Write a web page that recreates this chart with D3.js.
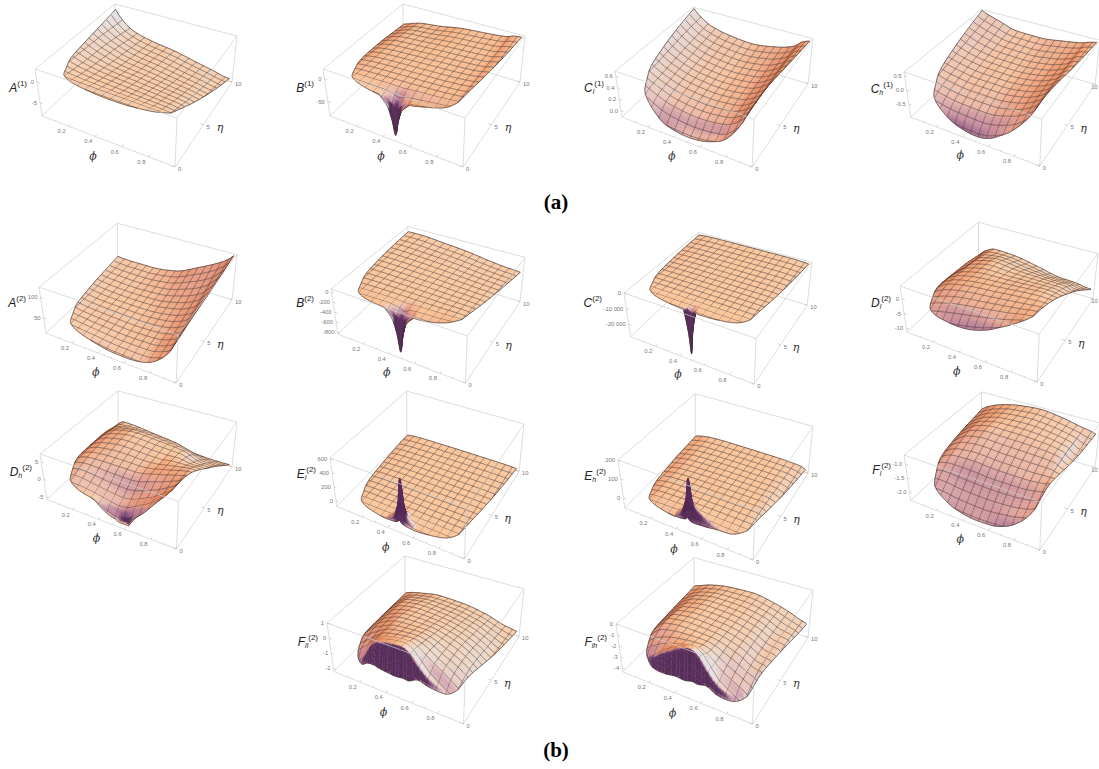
<!DOCTYPE html>
<html lang="en">
<head>
  <title>Surface plots</title>
  <script src="https://cdn.jsdelivr.net/npm/d3@7"></script>
  <style>body { margin: 0; background: #fff; }</style>
</head>
<body>
  <script>
    // knots the surface values were read at
    const phiKnots = [0, .05, .15, .3, .5, .7, .85, .92, 1];
    const etaKnots = [.4, 1, 2, 4, 7, 10];
    // the plotted domain: lowest eta present at a given phi
    const edgePhi = [0, .005, .03, .05, .08, .12, .2, .3, .4, .47, .6, .7, .8, .875, .89, .915, .945, .975, 1];
    const edgeEta = [13, 10, 5.7, 3.6, 2.5, 1.4, .9, .65, .52, .48, .5, .65, .95, 1.8, 3, 4.7, 7, 10, 13];
    const phiTicks = [.2, .4, .6, .8];
    const etaTicks = [0, 5, 10];

    // rows follow etaKnots, columns follow phiKnots
    const gridA1 = [
      [1, 1, 1, 1, .9, .9, .8, .6, .4],
      [1, 1, .9, .8, .7, .6, .5, .2, 0],
      [1.2, 1, .5, .1, -.2, -.4, -.6, -1, -1.4],
      [1.4, .8, -.2, -1, -1.5, -2, -2.4, -2.8, -3],
      [1.5, .5, -1, -2.5, -3.3, -4.2, -4.8, -5.2, -5.5],
      [2, -.1, -2.5, -3.8, -4.7, -6, -6.9, -7.4, -7.7]];
    const gridB1 = [
      [-8, -5, -3, -4, -6, 2, 8, 12, 14],
      [-8, -5, -3, -4, -5, 2, 8, 12, 14],
      [-12, -6, -3, -1, 2, 6, 10, 14, 16],
      [-15, -8, -3, 0, 3, 6, 10, 14, 17],
      [-20, -12, -4, -1, 3, 6, 9, 14, 17],
      [-27, -22, -13, -8, 1, 5, 9, 15, 17]];
    const dipKnotsPhi = [.36, .42, .45, .47, .49, .52, .58];
    const dipKnotsEta = [.4, .55, .8, 1.1, 1.6, 2.2];
    const dipB1 = [
      [0, -18, -45, -75, -45, -18, 0],
      [0, -18, -45, -72, -45, -18, 0],
      [0, -8, -20, -28, -20, -8, 0],
      [0, -3, -8, -10, -8, -3, 0],
      [0, -1, -2, -3, -2, -1, 0],
      [0, 0, 0, 0, 0, 0, 0]];
    const gridCl1 = [
      [.5, .35, .1, -.1, -.11, -.03, .2, .5, .65],
      [.5, .35, .17, 0, -.05, 0, .26, .58, .66],
      [.52, .38, .25, .12, .07, .12, .33, .6, .67],
      [.55, .42, .3, .2, .16, .2, .37, .6, .67],
      [.6, .5, .37, .27, .23, .27, .42, .6, .66],
      [.68, .57, .43, .35, .31, .37, .47, .59, .65]];
    const gridCh1 = [
      [-.1, -.3, -.6, -.93, -.96, -.6, 0, .4, .5],
      [-.1, -.25, -.5, -.65, -.7, -.45, .05, .45, .52],
      [0, -.15, -.3, -.4, -.42, -.22, .15, .5, .54],
      [.15, 0, -.1, -.18, -.18, -.05, .25, .52, .55],
      [.35, .25, .1, 0, -.02, .08, .3, .5, .55],
      [.62, .52, .38, .18, .16, .27, .38, .48, .56]];
    const gridA2 = [
      [40, 32, 25, 22, 16, 14, 25, 45, 70],
      [40, 32, 28, 24, 18, 17, 30, 50, 75],
      [40, 32, 28, 24, 20, 21, 35, 58, 85],
      [38, 32, 28, 26, 24, 28, 44, 70, 95],
      [36, 33, 30, 28, 30, 42, 62, 85, 110],
      [38, 36, 35, 35, 43, 69, 92, 105, 128]];
    const gridB2 = [
      [-120, -90, -70, -50, -50, -50, -10, 30, 40],
      [-120, -90, -65, -50, -45, -25, 10, 40, 40],
      [-90, -70, -55, -45, -40, -30, -15, -20, -40],
      [-60, -50, -45, -50, -55, -65, -70, -80, -95],
      [-45, -40, -45, -60, -85, -120, -140, -150, -170],
      [-48, -45, -50, -85, -130, -200, -240, -250, -270]];
    const dipB2 = [
      [0, -180, -450, -780, -450, -180, 0],
      [0, -180, -450, -740, -450, -180, 0],
      [0, -80, -200, -290, -200, -80, 0],
      [0, -30, -80, -100, -80, -30, 0],
      [0, -10, -20, -30, -20, -10, 0],
      [0, 0, 0, 0, 0, 0, 0]];
    const gridC2 = [
      [-300, -200, -200, -200, -200, -200, -200, -200, -300],
      [-400, -300, -200, -200, -200, -200, -200, -300, -400],
      [-600, -400, -300, -250, -250, -250, -300, -400, -600],
      [-900, -700, -500, -400, -400, -400, -500, -700, -900],
      [-1300, -1000, -700, -600, -600, -600, -700, -1000, -1300],
      [-1700, -1300, -1000, -900, -900, -900, -1000, -1300, -1700]];
    const dipC2Phi = [.425, .445, .46, .47, .48, .495, .515];
    const dipC2 = [
      [0, -9000, -18000, -27500, -18000, -9000, 0],
      [0, -8000, -17000, -26000, -17000, -8000, 0],
      [0, -700, -1800, -3000, -1800, -700, 0],
      [0, -100, -300, -500, -300, -100, 0],
      [0, 0, 0, 0, 0, 0, 0],
      [0, 0, 0, 0, 0, 0, 0]];
    const gridDl2 = [
      [-6, -6, -6, -5.5, -3.8, -.2, 3, 4, 4],
      [-6, -6, -5, -3.5, -1.5, 1, 3.3, 4, 4],
      [-6, -5, -3, -1, .5, 2, 3.4, 3.8, 3.8],
      [-6, -3.5, -1, .5, 1.5, 2.5, 3, 3, 3],
      [-8, -4, -1.5, 0, -.5, -.5, -.5, -1.2, -1.2],
      [-8.9, -5.8, -3.9, -4.2, -5.7, -7.4, -7.7, -8.2, -8.4]];
    const gridDh2 = [
      [-2, -2, -2, -2, -4.5, -2.4, 3.6, 6.5, 7],
      [-2, -2, -1.6, -2, -3.5, -.5, 4, 6.5, 7],
      [-2, -1.2, -.5, -1.2, -2, .5, 4, 6, 6.5],
      [-2, 0, 1.2, 1.5, 1.5, 3, 4.5, 5, 5],
      [-2.5, .2, 2, 3, 2.5, 2, .5, .5, .5],
      [-3, -1.9, -2.1, -2.8, -3.7, -5.3, -5.5, -5.5, -5.5]];
    const dipDh2Phi = [.34, .42, .5, .58, .64, .68, .74];
    const dipDh2 = [
      [0, -.6, -.8, -3, -1, -.3, 0],
      [0, -.6, -.8, -3, -1, -.3, 0],
      [0, -.2, -.5, -1.2, -.5, -.2, 0],
      [0, 0, -.1, -.3, -.1, 0, 0],
      [0, 0, 0, 0, 0, 0, 0],
      [0, 0, 0, 0, 0, 0, 0]];
    const gridEl2 = [
      [-70, -60, -52, -50, -50, -50, -50, -52, -60],
      [-70, -60, -52, -50, -50, -50, -50, -52, -60],
      [-70, -60, -52, -50, -50, -50, -50, -52, -60],
      [-72, -60, -52, -50, -50, -50, -50, -52, -60],
      [-75, -62, -54, -50, -50, -50, -50, -52, -60],
      [-80, -65, -55, -52, -50, -50, -50, -52, -60]];
    const dipEl2 = [
      [0, 0, 0, 0, 0, 0, 0],
      [0, 25, 60, 130, 60, 25, 0],
      [0, 100, 280, 640, 280, 100, 0],
      [0, 40, 100, 250, 100, 40, 0],
      [0, 8, 20, 50, 20, 8, 0],
      [0, 0, 0, 0, 0, 0, 0]];
    const gridEh2 = [
      [-45, -40, -30, -25, -22, -20, -20, -30, -45],
      [-45, -38, -22, -18, -15, -15, -15, -25, -45],
      [-45, -35, -20, -15, -12, -12, -12, -22, -42],
      [-45, -35, -20, -15, -12, -10, -10, -22, -40],
      [-45, -35, -22, -18, -15, -15, -15, -25, -42],
      [-45, -35, -25, -22, -22, -22, -25, -28, -45]];
    const dipEh2Phi = [.36, .42, .45, .47, .49, .52, .58, .66, .78];
    const dipEh2 = [
      [0, 0, 0, 0, 0, 0, 0, 0, 0],
      [0, 12, 25, 50, 25, 15, 15, 10, 0],
      [0, 45, 110, 215, 110, 65, 40, 18, 0],
      [0, 15, 35, 80, 35, 18, 8, 3, 0],
      [0, 3, 8, 15, 8, 5, 2, 0, 0],
      [0, 0, 0, 0, 0, 0, 0, 0, 0]];
    const gridFl2 = [
      [-2, -2.05, -2.1, -2.29, -2.32, -2.3, -2, -1.6, -1.3],
      [-2, -2, -2, -2.1, -2.15, -2.05, -1.85, -1.55, -1.3],
      [-1.9, -1.8, -1.75, -1.82, -1.85, -1.8, -1.65, -1.45, -1.25],
      [-1.7, -1.5, -1.3, -1.25, -1.3, -1.3, -1.25, -1.2, -1.2],
      [-1.5, -1.3, -1, -.85, -.85, -.9, -1, -1.2, -1.25],
      [-1.35, -1.2, -1, -.83, -.75, -.86, -1, -1.05, -1.15]];
    const gridFll2 = [
      [-2, -2, -1.8, .35, .75, -.8, -1.6, -1.9, -2],
      [-2, -2, -1.6, .35, .75, -.8, -1.6, -1.9, -2],
      [-2, -1.6, -.9, .2, .5, -.4, -1.2, -1.6, -1.9],
      [-1.8, -1.2, -.5, 0, .1, -.4, -1, -1.4, -1.7],
      [-1.7, -1.2, -.6, -.4, -.5, -.8, -1.3, -1.6, -1.8],
      [-1.66, -1.5, -1.3, -1.1, -1.15, -1.4, -1.75, -1.85, -1.95]];
    const gridFlh2 = [
      [-4.2, -4.1, -3.3, -1.7, -.5, -3, -4, -4.2, -4.3],
      [-4.1, -3.9, -3.2, -1.7, -.5, -3, -4, -4.2, -4.3],
      [-3.7, -3.3, -2.4, -1.6, -1.2, -2.6, -3.5, -4, -4.2],
      [-3.3, -2.6, -1.6, -1.4, -1.5, -2.1, -2.9, -3, -3.4],
      [-3, -2.5, -1.8, -1.5, -1.6, -2, -2.7, -2.8, -3.2],
      [-2.8, -2.6, -2.2, -1.9, -1.8, -2.2, -2.7, -3, -3.2]];
    // drop from the crest down to the front rim of the last two panels
    const wallPhi = [.12, .2, .29, .37, .47, .54, .64, .72, .83];
    const wallFll2 = [0, -.4, -1.43, -1.75, -1.93, -1.8, -.65, -.3, 0];
    const wallFlh2 = [0, -1, -1.8, -2.2, -2.75, -2.5, -1, -.6, -.1];
    const wallDist = [0, .08, .16, .25];
    const wallFade = [1, .55, .12, 0];

    // the plot box, relative to its upper left corner
    const boxTop = { L: [0, 0], F: [142, 49], B: [80, -65], R: [202, -33] };
    const boxBot = { L: [7, 47], F: [140, 98], B: [80, -22], R: [197, 13] };

    const panels = [
      { base: "A", sup: "(1)", at: [27, 92], x0: 35, y0: 69, sx: 1, sy: 1, zr: [-8.2, 3.2], zt: ["0", "-5"], grid: gridA1 },
      { base: "B", sup: "(1)", at: [314, 92], x0: 323, y0: 69, sx: 1, sy: 1, zr: [-81, 21], zt: ["0", "-50"], grid: gridB1, dip: dipB1 },
      { base: "C", sub: "l", sup: "(1)", at: [604, 92], x0: 615, y0: 71, sx: .98, sy: .98, zr: [-.11, .69], zt: ["0.6", "0.4", "0.2", "0.0"], grid: gridCl1 },
      { base: "C", sub: "h", sup: "(1)", at: [893, 93], x0: 904, y0: 72, sx: .97, sy: .96, zr: [-.96, .64], zt: ["0.5", "0.0", "-0.5"], grid: gridCh1 },
      { base: "A", sup: "(2)", at: [26, 307], x0: 39, y0: 287, sx: .98, sy: .98, zr: [13, 125], zt: ["100", "50"], grid: gridA2 },
      { base: "B", sup: "(2)", at: [314, 307], x0: 331, y0: 289, sx: .96, sy: .96, zr: [-840, 60], zt: ["0", "-200", "-400", "-600", "-800"], grid: gridB2, dip: dipB2 },
      { base: "C", sup: "(2)", at: [602, 307], x0: 624, y0: 293, sx: .93, sy: .93, zr: [-28000, 0], zt: ["0", "-10 000", "-20 000"], grid: gridC2, dip: dipC2, dipPhi: dipC2Phi },
      { base: "D", sub: "l", sup: "(2)", at: [891, 307], x0: 900, y0: 286, sx: .98, sy: .98, zr: [-11.4, 4.5], zt: ["0", "-5", "-10"], grid: gridDl2 },
      { base: "D", sub: "h", sup: "(2)", at: [32, 476], x0: 40, y0: 454, sx: .975, sy: .97, zr: [-5.8, 7.3], zt: ["5", "0", "-5"], grid: gridDh2, dip: dipDh2, dipPhi: dipDh2Phi },
      { base: "E", sub: "l", sup: "(2)", at: [316, 478], x0: 330, y0: 458, sx: .96, sy: 1.03, zr: [-85, 615], zt: ["600", "400", "200", "0"], grid: gridEl2, dip: dipEl2 },
      { base: "E", sub: "h", sup: "(2)", at: [606, 480], x0: 618, y0: 460, sx: .965, sy: 1.02, zr: [-54, 200], zt: ["200", "100", "0"], grid: gridEh2, dip: dipEh2, dipPhi: dipEh2Phi },
      { base: "F", sub: "l", sup: "(2)", at: [891, 474], x0: 904, y0: 455, sx: .97, sy: .97, zr: [-2.32, -.68], zt: ["-1.0", "-1.5", "-2.0"], grid: gridFl2 },
      { base: "F", sub: "ll", sup: "(2)", at: [318, 646], x0: 327, y0: 623, sx: .975, sy: 1.03, zr: [-2.2, 1], zt: ["1", "0", "-1", "-2"], grid: gridFll2, wall: wallFll2 },
      { base: "F", sub: "lh", sup: "(2)", at: [607, 646], x0: 616, y0: 624, sx: .975, sy: 1.02, zr: [-4.36, 0], zt: ["0", "-1", "-2", "-3", "-4"], grid: gridFlh2, wall: wallFlh2 }
    ];

    const svg = d3.select("body").append("svg").attr("width", 1099).attr("height", 769)
      .style("display", "block");
    const phiScale = d3.scaleLinear().domain([0, 1]).range([0, 1]);
    const etaScale = d3.scaleLinear().domain([0, 10]).range([0, 1]);
    const line = d3.line();

    // colour shift by how far the surface leans along phi and along eta
    const leanPhi = [-1, -.4, 0, 1];
    const redPhi = d3.scaleLinear().domain(leanPhi).range([-60, -12, 0, -25]);
    const greenPhi = d3.scaleLinear().domain(leanPhi).range([-100, -50, 0, 32]);
    const bluePhi = d3.scaleLinear().domain(leanPhi).range([-95, -55, 0, 85]);
    const leanEta = [-1, -.7, -.4, 0, 1];
    const redEta = d3.scaleLinear().domain(leanEta).range([-170, -60, -15, 0, 0]);
    const greenEta = d3.scaleLinear().domain(leanEta).range([-160, -65, -15, 0, 4]);
    const blueEta = d3.scaleLinear().domain(leanEta).range([-65, 0, 10, 0, 8]);
    const flat = [250, 198, 155];
    const dark = [88, 44, 92];

    // monotone cubic through read values, so spikes do not overshoot
    function mono(xs, ys, x) {
      const n = xs.length;
      if (x <= xs[0]) return ys[0];
      if (x >= xs[n - 1]) return ys[n - 1];
      const i = d3.bisectRight(xs, x) - 1;
      const sec = k => (ys[k + 1] - ys[k]) / (xs[k + 1] - xs[k]);
      const slope = k => {
        if (k === 0) return sec(0);
        if (k === n - 1) return sec(n - 2);
        const a = sec(k - 1), b = sec(k);
        return a * b <= 0 ? 0 : 2 * a * b / (a + b);
      };
      const h = xs[i + 1] - xs[i], t = (x - xs[i]) / h;
      return (2 * t * t * t - 3 * t * t + 1) * ys[i] + (t * t * t - 2 * t * t + t) * h * slope(i)
        + (-2 * t * t * t + 3 * t * t) * ys[i + 1] + (t * t * t - t * t) * h * slope(i + 1);
    }
    const edgeAt = phi => mono(edgePhi, edgeEta, phi);
    const inside = (phi, eta) => eta - edgeAt(phi);
    const clamp01 = v => Math.max(0, Math.min(1, v));

    function shade(n0, n1, n2) {
      const nz = .383 * n0 - .708 * n1 + .59 * n2;
      if (nz < -.12) return `rgb(${dark})`;
      const w = clamp01(1 + 1.2 * Math.min(n1, 0));
      const col = [
        flat[0] + w * redPhi(n0) + redEta(n1),
        flat[1] + w * greenPhi(n0) + greenEta(n1),
        flat[2] + w * bluePhi(n0) + blueEta(n1)
      ];
      const t = clamp01((.42 - n2) / .14);
      return `rgb(${col.map((v, i) => Math.round(Math.max(0, Math.min(255, v + t * (dark[i] - v)))))})`;
    }

    function clipPoly(pts) {
      const out = [];
      pts.forEach((a, i) => {
        const b = pts[(i + 1) % pts.length];
        const ga = inside(a[0], a[1]), gb = inside(b[0], b[1]);
        if (ga >= 0) out.push(a);
        if (ga * gb < 0) {
          const t = ga / (ga - gb);
          out.push([a[0] + t * (b[0] - a[0]), a[1] + t * (b[1] - a[1])]);
        }
      });
      return out;
    }
    function clipSeg(a, b) {
      const ga = inside(a[0], a[1]), gb = inside(b[0], b[1]);
      if (ga < 0 && gb < 0) return null;
      if (ga >= 0 && gb >= 0) return [a, b];
      const t = ga / (ga - gb);
      const m = [a[0] + t * (b[0] - a[0]), a[1] + t * (b[1] - a[1])];
      return ga >= 0 ? [a, m] : [m, b];
    }

    function drawPanel(p) {
      const g = svg.append("g");
      const zScale = d3.scaleLinear().domain(p.zr).range([0, 1]);
      const dipPhi = p.dipPhi || dipKnotsPhi;

      const corner = (box, u, v, k) => (1 - u) * (1 - v) * box.L[k] + u * (1 - v) * box.F[k]
        + (1 - u) * v * box.B[k] + u * v * box.R[k];
      const project = (phi, eta, z) => {
        const u = phiScale(phi), v = etaScale(eta), w = zScale(z);
        return [
          p.x0 + p.sx * (w * corner(boxTop, u, v, 0) + (1 - w) * corner(boxBot, u, v, 0)),
          p.y0 + p.sy * (w * corner(boxTop, u, v, 1) + (1 - w) * corner(boxBot, u, v, 1))
        ];
      };
      const surface = (phi, eta) => {
        let z = mono(etaKnots, p.grid.map(row => mono(phiKnots, row, phi)), eta);
        if (p.dip && phi > dipPhi[0] && phi < dipPhi[dipPhi.length - 1] && eta < dipKnotsEta[5]) {
          z += mono(dipKnotsEta, p.dip.map(row => mono(dipPhi, row, phi)), eta);
        }
        if (p.wall) {
          const dist = eta - edgeAt(phi);
          if (dist < wallDist[3]) z += mono(wallPhi, p.wall, phi) * mono(wallDist, wallFade, dist);
        }
        return Math.max(p.zr[0], Math.min(p.zr[1], z));
      };
      const at = ([phi, eta]) => project(phi, eta, surface(phi, eta));

      // box parts behind the surface
      const boxLine = (a, b) => g.append("path").attr("d", line([a, b]))
        .attr("stroke", "#cfcfcf").attr("stroke-width", .7).attr("fill", "none");
      const [zLo, zHi] = p.zr;
      const c = {
        tL: project(0, 0, zHi), tF: project(1, 0, zHi), tB: project(0, 10, zHi), tR: project(1, 10, zHi),
        bL: project(0, 0, zLo), bF: project(1, 0, zLo), bB: project(0, 10, zLo), bR: project(1, 10, zLo)
      };
      [[c.tL, c.tB], [c.tB, c.tR], [c.tB, c.bB], [c.bL, c.bB], [c.bB, c.bR], [c.tR, c.bR], [c.tL, c.bL]]
        .forEach(e => boxLine(e[0], e[1]));

      // sample nodes: mesh lines fall on them, denser where the surface is steep
      let phis = d3.range(0, 49).map(i => i / 48);
      if (p.dip) {
        const d = d3.range(dipPhi[0] + .002, dipPhi[dipPhi.length - 1], .004);
        phis = Array.from(new Set(phis.concat(d))).sort(d3.ascending);
      }
      const steep = p.dip || p.wall;
      const lowStep = steep ? .3125 / 6 : .3125 / 3;
      const etaList = d3.range(Math.round(.3125 / lowStep), Math.round(1.875 / lowStep)).map(i => i * lowStep)
        .concat(d3.range(6, 33).map(i => .3125 * i));
      const zs = etaList.map(e => phis.map(f => surface(f, e)));
      const isMesh = (v, step) => Math.abs(v / step - Math.round(v / step)) < 1e-3;

      for (let j = etaList.length - 2; j >= 0; j--) {
        const e0 = etaList[j], e1 = etaList[j + 1];
        const cells = [];
        for (let i = 0; i < phis.length - 1; i++) {
          const f0 = phis[i], f1 = phis[i + 1];
          const poly = clipPoly([[f0, e1], [f1, e1], [f1, e0], [f0, e0]]);
          if (poly.length < 3) continue;
          const span = zHi - zLo;
          const du = (zs[j + 1][i + 1] - zs[j + 1][i] + zs[j][i + 1] - zs[j][i]) / 2 / span / (f1 - f0);
          const dv = (zs[j + 1][i] - zs[j][i] + zs[j + 1][i + 1] - zs[j][i + 1]) / 2 / span / ((e1 - e0) / 10);
          const a = -.4 * du, b = -.4 * dv, len = Math.hypot(a, b, 1);
          const fill = shade(a / len, b / len, 1 / len);
          cells.push({ d: line(poly.map(at)) + "Z", fill });
        }
        g.append("g").selectAll("path").data(cells).join("path")
          .attr("d", d => d.d).attr("fill", d => d.fill).attr("stroke", d => d.fill).attr("stroke-width", .4);

        // mesh inside this strip
        let d = "";
        d3.range(1, 16).forEach(m => {
          const seg = clipSeg([m / 16, e0], [m / 16, e1]);
          if (seg) d += line(seg.map(at));
        });
        if (isMesh(e1, .625) && e1 < 9.9) {
          for (let i = 0; i < phis.length - 1; i++) {
            const seg = clipSeg([phis[i], e1], [phis[i + 1], e1]);
            if (seg) d += line(seg.map(at));
          }
        }
        if (d) g.append("path").attr("d", d).attr("fill", "none")
          .attr("stroke", "#40333a").attr("stroke-opacity", .72).attr("stroke-width", .7);
      }

      // outline of the surface
      const rim = d3.range(.005, .975, .003).map(f => [f, edgeAt(f)])
        .concat(d3.range(.975, .005, -.01).map(f => [f, 10]));
      g.append("path").attr("d", line(rim.map(at)) + "Z").attr("fill", "none")
        .attr("stroke", "#3d3030").attr("stroke-width", .7);

      // box parts in front
      [[c.tL, c.tF], [c.tF, c.tR], [c.tF, c.bF], [c.bL, c.bF], [c.bF, c.bR]].forEach(e => boxLine(e[0], e[1]));

      // ticks and their labels
      const tick = (a, b) => g.append("path").attr("d", line([a, b])).attr("stroke", "#aaa").attr("stroke-width", .5);
      const label = (xy, s, anchor) => g.append("text").attr("x", xy[0]).attr("y", xy[1]).attr("dy", ".35em")
        .attr("text-anchor", anchor).attr("font-family", "Liberation Sans").attr("font-size", 5.8)
        .attr("fill", "#777").text(s);
      d3.range(.1, .95, .1).forEach(f => {
        const a = project(f, 0, zLo);
        tick(a, project(f, phiTicks.some(t => Math.abs(t - f) < .01) ? .3 : .15, zLo));
      });
      phiTicks.forEach(f => {
        const a = project(f, 0, zLo);
        label([a[0] - 7, a[1] + 5], f.toFixed(1), "middle");
      });
      etaTicks.forEach(e => {
        const a = project(1, e, zLo);
        tick(a, project(.975, e, zLo));
        label([Math.min(a[0] + 3, 1098 - String(e).length * 3.4), a[1] + 2], String(e), "start");
      });
      p.zt.forEach(s => {
        const v = +s.replace(/ /g, "");
        const a = project(0, 0, v);
        tick(a, project(.02, 0, v));
        label([a[0] - 3, a[1]], s, "end");
      });

      // axis names
      const name = (x, y, s) => g.append("text").attr("x", x).attr("y", y).attr("dy", ".35em")
        .attr("text-anchor", "middle").attr("font-family", "DejaVu Serif").attr("font-style", "italic")
        .attr("font-size", 11).attr("fill", "#333").text(s);
      name(p.x0 + 58 * p.sx, p.y0 + 87 * p.sy, "\u03D5");
      name(p.x0 + 185 * p.sx, p.y0 + 58 * p.sy, "\u03B7");

      // panel label
      const t = g.append("text").attr("x", p.at[0]).attr("y", p.at[1]).attr("text-anchor", "end")
        .attr("font-family", "Liberation Sans").attr("fill", "#222").attr("font-size", 12);
      t.append("tspan").attr("font-style", "italic").text(p.base);
      if (p.sub) t.append("tspan").attr("font-style", "italic").attr("font-size", 7).attr("dy", 2).text(p.sub);
      t.append("tspan").attr("font-size", 8).attr("dy", p.sub ? -8 : -6).text(p.sup);
    }

    panels.forEach(drawPanel);

    [["(a)", 209], ["(b)", 757]].forEach(([s, y]) => {
      svg.append("text").attr("x", 556).attr("y", y).attr("text-anchor", "middle")
        .attr("font-family", "Liberation Serif").attr("font-weight", "bold").attr("font-size", 21)
        .attr("fill", "#000").text(s);
    });
  </script>
</body>
</html>
